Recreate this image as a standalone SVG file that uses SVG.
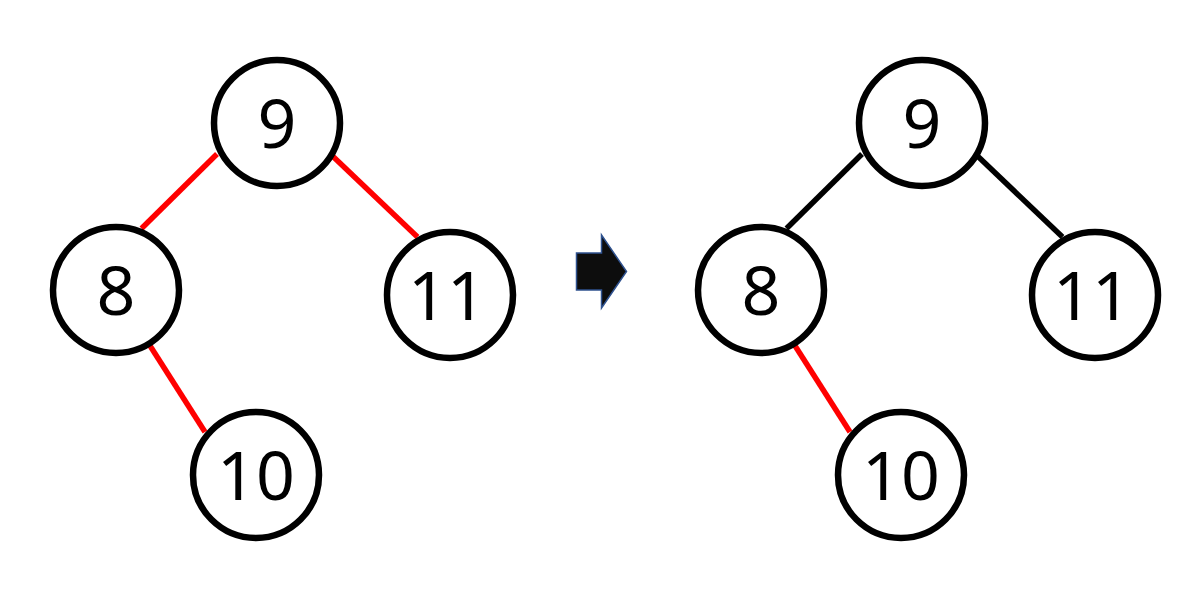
<svg xmlns="http://www.w3.org/2000/svg" width="1188" height="598" viewBox="0 0 1188 598">
<style>
.node circle{fill:#fff;stroke:#000;stroke-width:6.5}
.node text{font-family:"Noto Sans","Open Sans","Liberation Sans",sans-serif;font-size:68px;fill:#000;text-anchor:middle}
.red{stroke:#ff0000;stroke-width:5.5;fill:none}
.blk{stroke:#000;stroke-width:5.5;fill:none}
</style>
<rect width="1188" height="598" fill="#fff"/>
<g id="connectors">
<line class="red" x1="217" y1="154" x2="141.5" y2="228.5"/>
<line class="red" x1="332.5" y1="156" x2="417.5" y2="237"/>
<line class="red" x1="147" y1="341" x2="205" y2="432"/>
<line class="blk" x1="862" y1="154" x2="786.5" y2="228.5"/>
<line class="blk" x1="977.5" y1="156" x2="1062.5" y2="237"/>
<line class="red" x1="792" y1="341" x2="850" y2="432"/>
</g>
<g id="node-L9" class="node"><circle cx="277" cy="123" r="63"/><text x="277" y="148">9</text></g>
<g id="node-L8" class="node"><circle cx="116" cy="290" r="63"/><text x="116" y="315">8</text></g>
<g id="node-L11" class="node"><circle cx="450" cy="295" r="63"/><text x="447" y="320">11</text></g>
<g id="node-L10" class="node"><circle cx="256" cy="475" r="63"/><text x="256" y="500">10</text></g>
<g id="arrow"><path d="M576.5,253 H601.5 V235 L626.5,271.5 L601.5,308 V290 H576.5 Z" fill="#0d0d0d" stroke="#2f528f" stroke-width="1.5"/></g>
<g id="node-R9" class="node"><circle cx="922" cy="123" r="63"/><text x="922" y="148">9</text></g>
<g id="node-R8" class="node"><circle cx="761" cy="290" r="63"/><text x="761" y="315">8</text></g>
<g id="node-R11" class="node"><circle cx="1095" cy="295" r="63"/><text x="1092" y="320">11</text></g>
<g id="node-R10" class="node"><circle cx="901" cy="475" r="63"/><text x="901" y="500">10</text></g>
</svg>
